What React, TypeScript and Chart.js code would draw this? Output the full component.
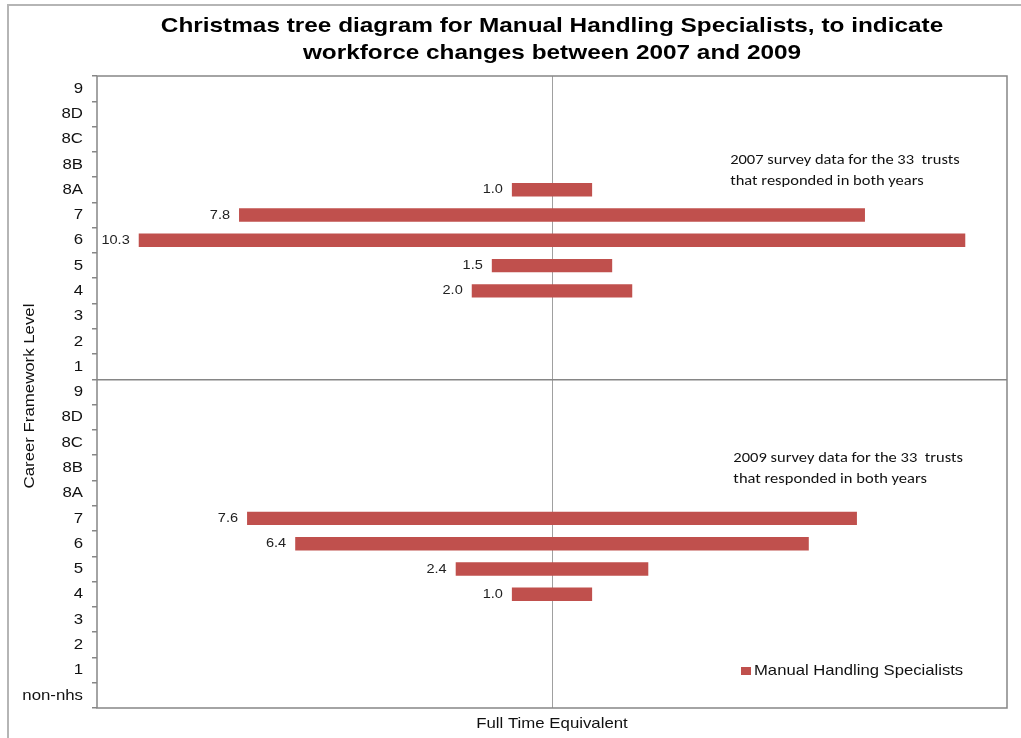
import React, { useEffect, useRef } from "react";
import { Chart, registerables } from "chart.js";

Chart.register(...registerables);

// Career framework levels: 2007 block (9 … 1), then 2009 block (9 … 1, non-nhs)
const levels2007 = ["9", "8D", "8C", "8B", "8A", "7", "6", "5", "4", "3", "2", "1"];
const levels2009 = ["9", "8D", "8C", "8B", "8A", "7", "6", "5", "4", "3", "2", "1", "non-nhs"];

// Full time equivalent per level
const fte2007: (number | null)[] = [null, null, null, null, 1.0, 7.8, 10.3, 1.5, 2.0, null, null, null];
const fte2009: (number | null)[] = [null, null, null, null, null, 7.6, 6.4, 2.4, 1.0, null, null, null, null];

const seriesName = "Manual Handling Specialists";
const titleLines = [
  "Christmas tree diagram for Manual Handling Specialists, to indicate",
  "workforce changes between 2007 and 2009",
];
const note2007 = ["2007 survey data for the 33  trusts", "that responded in both years"];
const note2009 = ["2009 survey data for the 33  trusts", "that responded in both years"];
const xTitle = "Full Time Equivalent";
const yTitle = "Career Framework Level";

const BAR = "#C0504D";
const AXIS = "#868686";
const SANS = "'Liberation Sans', Arial, sans-serif";
const NOTE_FONT = "Carlito, Lato, sans-serif";

// text drawn with a slight horizontal widening, like the office renderer's glyphs
function wideText(
  ctx: CanvasRenderingContext2D,
  text: string,
  x: number,
  y: number,
  align: CanvasTextAlign,
  sx: number,
  rotate = 0
) {
  ctx.save();
  ctx.translate(x, y);
  if (rotate) ctx.rotate(rotate);
  ctx.scale(sx, 1);
  ctx.textAlign = align;
  ctx.textBaseline = "middle";
  ctx.fillText(text, 0, 0);
  ctx.restore();
}

export default function App() {
  const ref = useRef<HTMLCanvasElement | null>(null);

  useEffect(() => {
    if (!ref.current) return;
    const labels = [...levels2007, ...levels2009];
    const values = [...fte2007, ...fte2009];
    // each bar is centred on zero, half its width on each side
    const spans = values.map((v) => (v == null ? null : [-v / 2, v / 2]));
    const split = levels2007.length;

    const decor = {
      id: "decor",
      afterDatasetsDraw(chart: any) {
        const { ctx } = chart;
        const x = chart.scales.x;
        const y = chart.scales.y;
        ctx.save();
        ctx.font = `13px ${SANS}`;
        ctx.fillStyle = "#222";
        values.forEach((v, i) => {
          if (v == null) return;
          wideText(ctx, v.toFixed(1), x.getPixelForValue(-v / 2) - 9, y.getPixelForValue(i), "right", 1.12);
        });
        ctx.restore();
      },
      afterDraw(chart: any) {
        const { ctx, chartArea: a } = chart;
        const x = chart.scales.x;
        const y = chart.scales.y;
        ctx.save();
        // outer frame
        ctx.strokeStyle = "#b5b5b5";
        ctx.lineWidth = 2;
        ctx.beginPath();
        ctx.moveTo(8, 740);
        ctx.lineTo(8, 5);
        ctx.lineTo(1025, 5);
        ctx.stroke();
        // plot area border
        ctx.strokeStyle = AXIS;
        ctx.lineWidth = 1.5;
        ctx.strokeRect(a.left, a.top, a.right - a.left, a.bottom - a.top);

        // category labels
        ctx.fillStyle = "#111";
        ctx.font = `15px ${SANS}`;
        labels.forEach((lab, i) => {
          wideText(ctx, lab, a.left - 14, y.getPixelForValue(i), "right", 1.12);
        });
        // axis titles
        wideText(ctx, yTitle, 30, (a.top + a.bottom) / 2 + 4, "center", 1.12, -Math.PI / 2);
        wideText(ctx, xTitle, (a.left + a.right) / 2, 724, "center", 1.12);

        // title, centred on the plot area
        ctx.fillStyle = "#000";
        ctx.font = `bold 21px ${SANS}`;
        const cx = (a.left + a.right) / 2;
        wideText(ctx, titleLines[0], cx, 26, "center", 1.16);
        wideText(ctx, titleLines[1], cx, 53, "center", 1.16);

        // survey notes
        ctx.font = `15px ${NOTE_FONT}`;
        ctx.fillStyle = "#111";
        const nx = x.getPixelForValue(2.22);
        wideText(ctx, note2007[0], nx, y.getPixelForValue(2.82), "left", 1.1);
        wideText(ctx, note2007[1], nx, y.getPixelForValue(3.68), "left", 1.1);
        const nx2 = x.getPixelForValue(2.26);
        wideText(ctx, note2009[0], nx2, y.getPixelForValue(14.61), "left", 1.1);
        wideText(ctx, note2009[1], nx2, y.getPixelForValue(15.44), "left", 1.1);

        // legend
        const lx = a.right - 266;
        const ly = a.bottom - 37;
        ctx.fillStyle = BAR;
        ctx.fillRect(lx, ly - 4, 10, 8);
        ctx.fillStyle = "#111";
        ctx.font = `15px ${SANS}`;
        wideText(ctx, seriesName, lx + 13, ly, "left", 1.11);
        ctx.restore();
      },
    };

    const chart = new Chart(ref.current, {
      type: "bar",
      data: {
        labels,
        datasets: [
          {
            label: seriesName,
            data: spans as any,
            backgroundColor: BAR,
            borderWidth: 0,
            barPercentage: 0.53,
            categoryPercentage: 1,
            borderSkipped: false,
          },
        ],
      },
      options: {
        indexAxis: "y",
        responsive: false,
        animation: false,
        layout: { padding: { top: 76, right: 14, left: 0, bottom: 0 } },
        plugins: {
          legend: { display: false },
          title: { display: false },
          tooltip: { enabled: false },
        },
        scales: {
          x: {
            min: -5.67,
            max: 5.67,
            z: 1,
            afterBuildTicks: (axis: any) => {
              axis.ticks = [{ value: 0 }];
            },
            afterFit: (axis: any) => {
              axis.height = 30;
            },
            ticks: { display: false },
            grid: { color: "#a0a0a0", lineWidth: 1, drawTicks: false },
            border: { display: false },
          },
          y: {
            type: "category",
            offset: true,
            afterFit: (axis: any) => {
              axis.width = 97;
            },
            grid: {
              offset: true,
              drawOnChartArea: true,
              color: (c: any) => (c.index === split ? AXIS : "transparent"),
              tickColor: AXIS,
              tickLength: 5,
              lineWidth: 1.5,
            },
            border: { display: false },
            ticks: { display: false, autoSkip: false },
          },
        },
      },
      plugins: [decor],
    });
    return () => chart.destroy();
  }, []);

  return (
    <div style={{ position: "absolute", left: 0, top: 0, width: 1021, height: 738, background: "#fff" }}>
      <canvas ref={ref} width={1021} height={738} />
    </div>
  );
}
